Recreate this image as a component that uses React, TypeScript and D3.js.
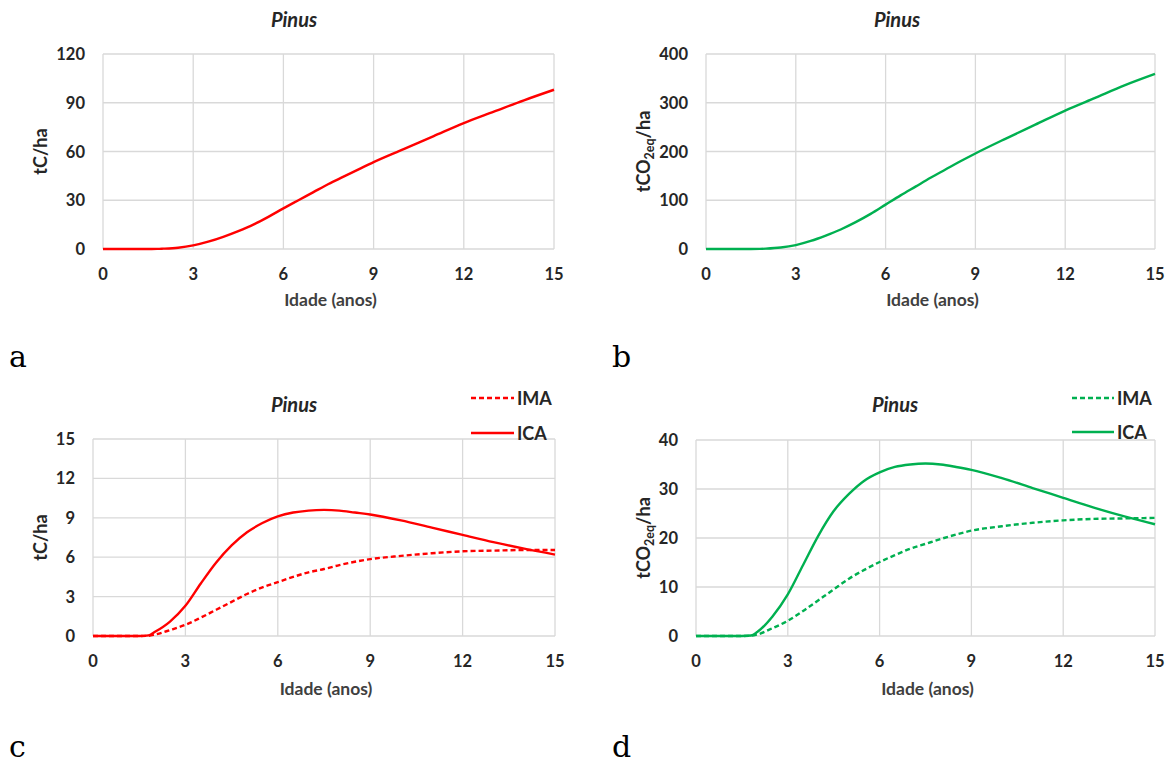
import React from "react";
import * as d3 from "d3";

// ---- data ----
const ages = [0, 0.5, 1, 1.5, 1.8, 2, 2.5, 3, 3.5, 4, 4.5, 5, 5.5, 6, 6.5, 7, 7.5, 8, 8.5, 9, 10, 11, 12, 13, 14, 15];

const stockC = [0, 0, 0, 0, 0.05, 0.2, 0.8, 2.2, 4.5, 7.5, 11, 15, 19.8, 25, 30, 35, 40, 44.5, 49, 53.5, 61.5, 69.5, 77.5, 84.5, 91.5, 98];
const stockCO2 = [0, 0, 0, 0, 0.2, 0.7, 3, 8, 16.5, 27.5, 40, 55, 72, 91, 110, 128, 146, 163, 180, 196, 226, 255, 284, 310, 336, 359];

const imaC = [0, 0, 0, 0, 0.02, 0.1, 0.45, 0.85, 1.4, 2.0, 2.6, 3.2, 3.7, 4.1, 4.5, 4.85, 5.1, 5.4, 5.65, 5.85, 6.1, 6.3, 6.45, 6.5, 6.55, 6.55];
const icaC = [0, 0, 0, 0, 0.05, 0.3, 1.1, 2.3, 4.0, 5.6, 6.9, 7.9, 8.6, 9.1, 9.4, 9.55, 9.6, 9.55, 9.4, 9.25, 8.8, 8.25, 7.7, 7.15, 6.65, 6.2];

const imaCO2 = [0, 0, 0, 0, 0.05, 0.3, 1.6, 3.1, 5.1, 7.3, 9.5, 11.7, 13.5, 15.1, 16.5, 17.8, 18.8, 19.8, 20.7, 21.5, 22.4, 23.1, 23.6, 23.9, 24.0, 24.1];
const icaCO2 = [0, 0, 0, 0, 0.1, 0.8, 4, 8.5, 14.5, 20.5, 25.5, 29, 31.7, 33.4, 34.5, 35.0, 35.2, 35.0, 34.5, 33.9, 32.2, 30.2, 28.2, 26.2, 24.4, 22.8];

const xTicks = [0, 3, 6, 9, 12, 15];
const yTicksA = [0, 30, 60, 90, 120];
const yTicksB = [0, 100, 200, 300, 400];
const yTicksC = [0, 3, 6, 9, 12, 15];
const yTicksD = [0, 10, 20, 30, 40];

const seriesNames = ["IMA", "ICA"];
const title = "Pinus";
const xTitle = "Idade (anos)";

const RED = "#ff0000";
const GREEN = "#00b050";
const FONT = "Lato, 'Open Sans', sans-serif";

type Series = { values: number[]; dashed?: boolean };

function YLabel({ x, y, co2 }: { x: number; y: number; co2: boolean }) {
  return (
    <text
      transform={`translate(${x},${y}) rotate(-90)`}
      textAnchor="middle"
      fontFamily={FONT}
      fontWeight="bold"
      fontSize={18}
      fill="#262626"
    >
      {co2 ? (
        <>
          tCO<tspan fontSize={12.5} dy={4}>2eq</tspan>
          <tspan dy={-4}>/ha</tspan>
        </>
      ) : (
        "tC/ha"
      )}
    </text>
  );
}

function Panel(props: {
  left: number;
  right: number;
  top: number;
  bottom: number;
  yTicks: number[];
  series: Series[];
  color: string;
  co2: boolean;
  titleX: number;
  titleY: number;
  yLabelX: number;
  xTickY: number;
  xTitleY: number;
  legend?: { x1: number; x2: number; y1: number; y2: number };
}) {
  const { left, right, top, bottom, yTicks, series, color, co2, legend } = props;
  const x = d3.scaleLinear().domain([0, 15]).range([left, right]);
  const y = d3
    .scaleLinear()
    .domain([0, yTicks[yTicks.length - 1]])
    .range([bottom, top]);
  const line = d3
    .line<number>()
    .x((_, i) => x(ages[i]))
    .y((d) => y(d))
    .curve(d3.curveMonotoneX);
  const cx = (left + right) / 2;
  return (
    <g>
      {xTicks.map((t) => (
        <line key={"gx" + t} x1={x(t)} x2={x(t)} y1={top} y2={bottom} stroke="#d9d9d9" strokeWidth={1.3} />
      ))}
      {yTicks.map((t) => (
        <line key={"gy" + t} x1={left} x2={right} y1={y(t)} y2={y(t)} stroke="#d9d9d9" strokeWidth={1.3} />
      ))}
      {series.map((s, i) => (
        <path
          key={"s" + i}
          d={line(s.values) || ""}
          fill="none"
          stroke={color}
          strokeWidth={2.4}
          strokeDasharray={s.dashed ? "5,3" : undefined}
        />
      ))}
      {xTicks.map((t) => (
        <text
          key={"tx" + t}
          x={x(t)}
          y={props.xTickY}
          textAnchor="middle"
          fontFamily={FONT}
          fontWeight="bold"
          fontSize={16.5}
          fill="#262626"
        >
          {t}
        </text>
      ))}
      {yTicks.map((t) => (
        <text
          key={"ty" + t}
          x={left - 18}
          y={y(t) + 6}
          textAnchor="end"
          fontFamily={FONT}
          fontWeight="bold"
          fontSize={16.5}
          fill="#262626"
        >
          {t}
        </text>
      ))}
      <text
        x={props.titleX}
        y={props.titleY}
        textAnchor="middle"
        fontFamily={FONT}
        fontWeight="bold"
        fontStyle="italic"
        fontSize={20}
        fill="#262626"
      >
        {title}
      </text>
      <text
        x={cx + 2}
        y={props.xTitleY}
        textAnchor="middle"
        fontFamily={FONT}
        fontWeight="bold"
        fontSize={17.5}
        fill="#404040"
      >
        {xTitle}
      </text>
      <YLabel x={props.yLabelX} y={(top + bottom) / 2} co2={co2} />
      {legend &&
        seriesNames.map((n, i) => {
          const ly = i === 0 ? legend.y1 : legend.y2;
          return (
            <g key={"lg" + n}>
              <line
                x1={legend.x1}
                x2={legend.x2}
                y1={ly}
                y2={ly}
                stroke={color}
                strokeWidth={2.4}
                strokeDasharray={i === 0 ? "5,3" : undefined}
              />
              <text
                x={legend.x2 + 3}
                y={ly + 6.5}
                fontFamily={FONT}
                fontWeight="bold"
                fontSize={18}
                fill="#262626"
              >
                {n}
              </text>
            </g>
          );
        })}
    </g>
  );
}

export default function App() {
  const letterStyle = { fontFamily: "'DejaVu Serif', 'Liberation Serif', serif", fontSize: 30, fill: "#000" };
  return (
    <svg
      width={1171}
      height={763}
      style={{ position: "absolute", left: 0, top: 0, background: "#fff" }}
    >
      <rect width={1171} height={763} fill="#fff" />
      <Panel
        left={103}
        right={554}
        top={54}
        bottom={249}
        yTicks={yTicksA}
        series={[{ values: stockC }]}
        color={RED}
        co2={false}
        titleX={294}
        titleY={27}
        yLabelX={47}
        xTickY={280}
        xTitleY={306}
      />
      <Panel
        left={706}
        right={1155}
        top={54}
        bottom={249}
        yTicks={yTicksB}
        series={[{ values: stockCO2 }]}
        color={GREEN}
        co2={true}
        titleX={897}
        titleY={27}
        yLabelX={650}
        xTickY={280}
        xTitleY={306}
      />
      <Panel
        left={93}
        right={555}
        top={439}
        bottom={636}
        yTicks={yTicksC}
        series={[{ values: imaC, dashed: true }, { values: icaC }]}
        color={RED}
        co2={false}
        titleX={294}
        titleY={412}
        yLabelX={47}
        xTickY={667}
        xTitleY={695}
        legend={{ x1: 471, x2: 514, y1: 398, y2: 433 }}
      />
      <Panel
        left={696}
        right={1155}
        top={440}
        bottom={636}
        yTicks={yTicksD}
        series={[{ values: imaCO2, dashed: true }, { values: icaCO2 }]}
        color={GREEN}
        co2={true}
        titleX={895}
        titleY={412}
        yLabelX={650}
        xTickY={667}
        xTitleY={695}
        legend={{ x1: 1072, x2: 1114, y1: 398, y2: 432 }}
      />
      <text x={9} y={367} {...letterStyle}>a</text>
      <text x={612} y={367} {...letterStyle}>b</text>
      <text x={9} y={757} {...letterStyle}>c</text>
      <text x={612} y={757} {...letterStyle}>d</text>
    </svg>
  );
}
